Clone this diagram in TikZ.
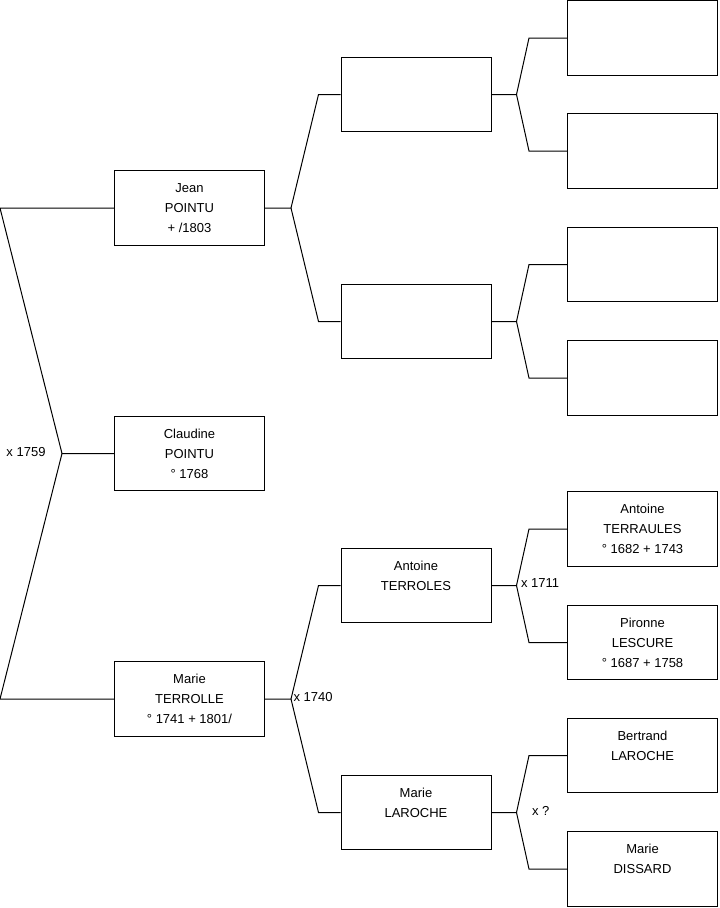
\documentclass[tikz,border=0pt]{standalone}
\usepackage{fontspec}
\setmainfont{Liberation Sans}
\begin{document}
\begin{tikzpicture}[x=0.75pt,y=-0.75pt,line width=0.75pt,
    person/.style={draw,minimum width=112.5pt,minimum height=56pt,inner sep=0pt,align=center,font=\fontsize{9.75}{15}\selectfont},
    union/.style={inner sep=0pt,font=\fontsize{9.75}{15}\selectfont}]
    \useasboundingbox (0,0) rectangle (719,908);
    % generation 1
    \node[person] (jean) at (189.5,208) {Jean\\POINTU\\+ /1803};
    \node[person] (claudine) at (189.5,453.5) {Claudine\\POINTU\\° 1768};
    \node[person] (marie) at (189.5,699) {Marie\\TERROLLE\\° 1741 + 1801/};
    % generation 2
    \node[person] (jeanf) at (416,94.5) {};
    \node[person] (jeanm) at (416,321.5) {};
    \node[person] (antoine) at (416,585.5) {Antoine\\TERROLES\\\mbox{}};
    \node[person] (mariel) at (416,812.5) {Marie\\LAROCHE\\\mbox{}};
    % generation 3
    \node[person] (jeanff) at (642.5,38) {};
    \node[person] (jeanfm) at (642.5,151) {};
    \node[person] (jeanmf) at (642.5,264.5) {};
    \node[person] (jeanmm) at (642.5,378) {};
    \node[person] (antoinef) at (642.5,529) {Antoine\\TERRAULES\\° 1682 + 1743};
    \node[person] (antoinem) at (642.5,642.5) {Pironne\\LESCURE\\° 1687 + 1758};
    \node[person] (bertrand) at (642.5,755.5) {Bertrand\\LAROCHE\\\mbox{}};
    \node[person] (dissard) at (642.5,869) {Marie\\DISSARD\\\mbox{}};
    % parents of claudine
    \coordinate (f0) at (62,453.5);
    \coordinate (f0a) at (0,208);
    \coordinate (f0b) at (0,699);
    \draw (claudine.west) -- (f0) -- (f0a) -- (jean.west);
    \draw (f0) -- (f0b) -- (marie.west);
    \node[union,anchor=east] (u0) at ([xshift=-12pt,yshift=1pt]f0) {x 1759};
    % parents of jean
    \draw (jean.east) -- ([xshift=19.5pt]jean.east) coordinate (f1) -- ([xshift=-16.5pt]jeanf.west) -- (jeanf.west);
    \draw (f1) -- ([xshift=-16.5pt]jeanm.west) -- (jeanm.west);
    % parents of marie
    \draw (marie.east) -- ([xshift=19.5pt]marie.east) coordinate (f2) -- ([xshift=-16.5pt]antoine.west) -- (antoine.west);
    \draw (f2) -- ([xshift=-16.5pt]mariel.west) -- (mariel.west);
    \node[union,anchor=west] (u2) at ([xshift=1.5pt,yshift=1.5pt]f2) {x 1740};
    % generation 3 forks
    \draw (jeanf.east) -- ([xshift=18.75pt]jeanf.east) coordinate (f3) -- ([xshift=-28.5pt]jeanff.west) -- (jeanff.west);
    \draw (f3) -- ([xshift=-28.5pt]jeanfm.west) -- (jeanfm.west);
    \draw (jeanm.east) -- ([xshift=18.75pt]jeanm.east) coordinate (f4) -- ([xshift=-28.5pt]jeanmf.west) -- (jeanmf.west);
    \draw (f4) -- ([xshift=-28.5pt]jeanmm.west) -- (jeanmm.west);
    \draw (antoine.east) -- ([xshift=18.75pt]antoine.east) coordinate (f5) -- ([xshift=-28.5pt]antoinef.west) -- (antoinef.west);
    \draw (f5) -- ([xshift=-28.5pt]antoinem.west) -- (antoinem.west);
    \node[union,anchor=west] (u5) at ([xshift=3pt,yshift=1.5pt]f5) {x 1711};
    \draw (mariel.east) -- ([xshift=18.75pt]mariel.east) coordinate (f6) -- ([xshift=-28.5pt]bertrand.west) -- (bertrand.west);
    \draw (f6) -- ([xshift=-28.5pt]dissard.west) -- (dissard.west);
    \node[union,anchor=west] (u6) at ([xshift=11.25pt,yshift=1.5pt]f6) {x ?};
\end{tikzpicture}
\end{document}
